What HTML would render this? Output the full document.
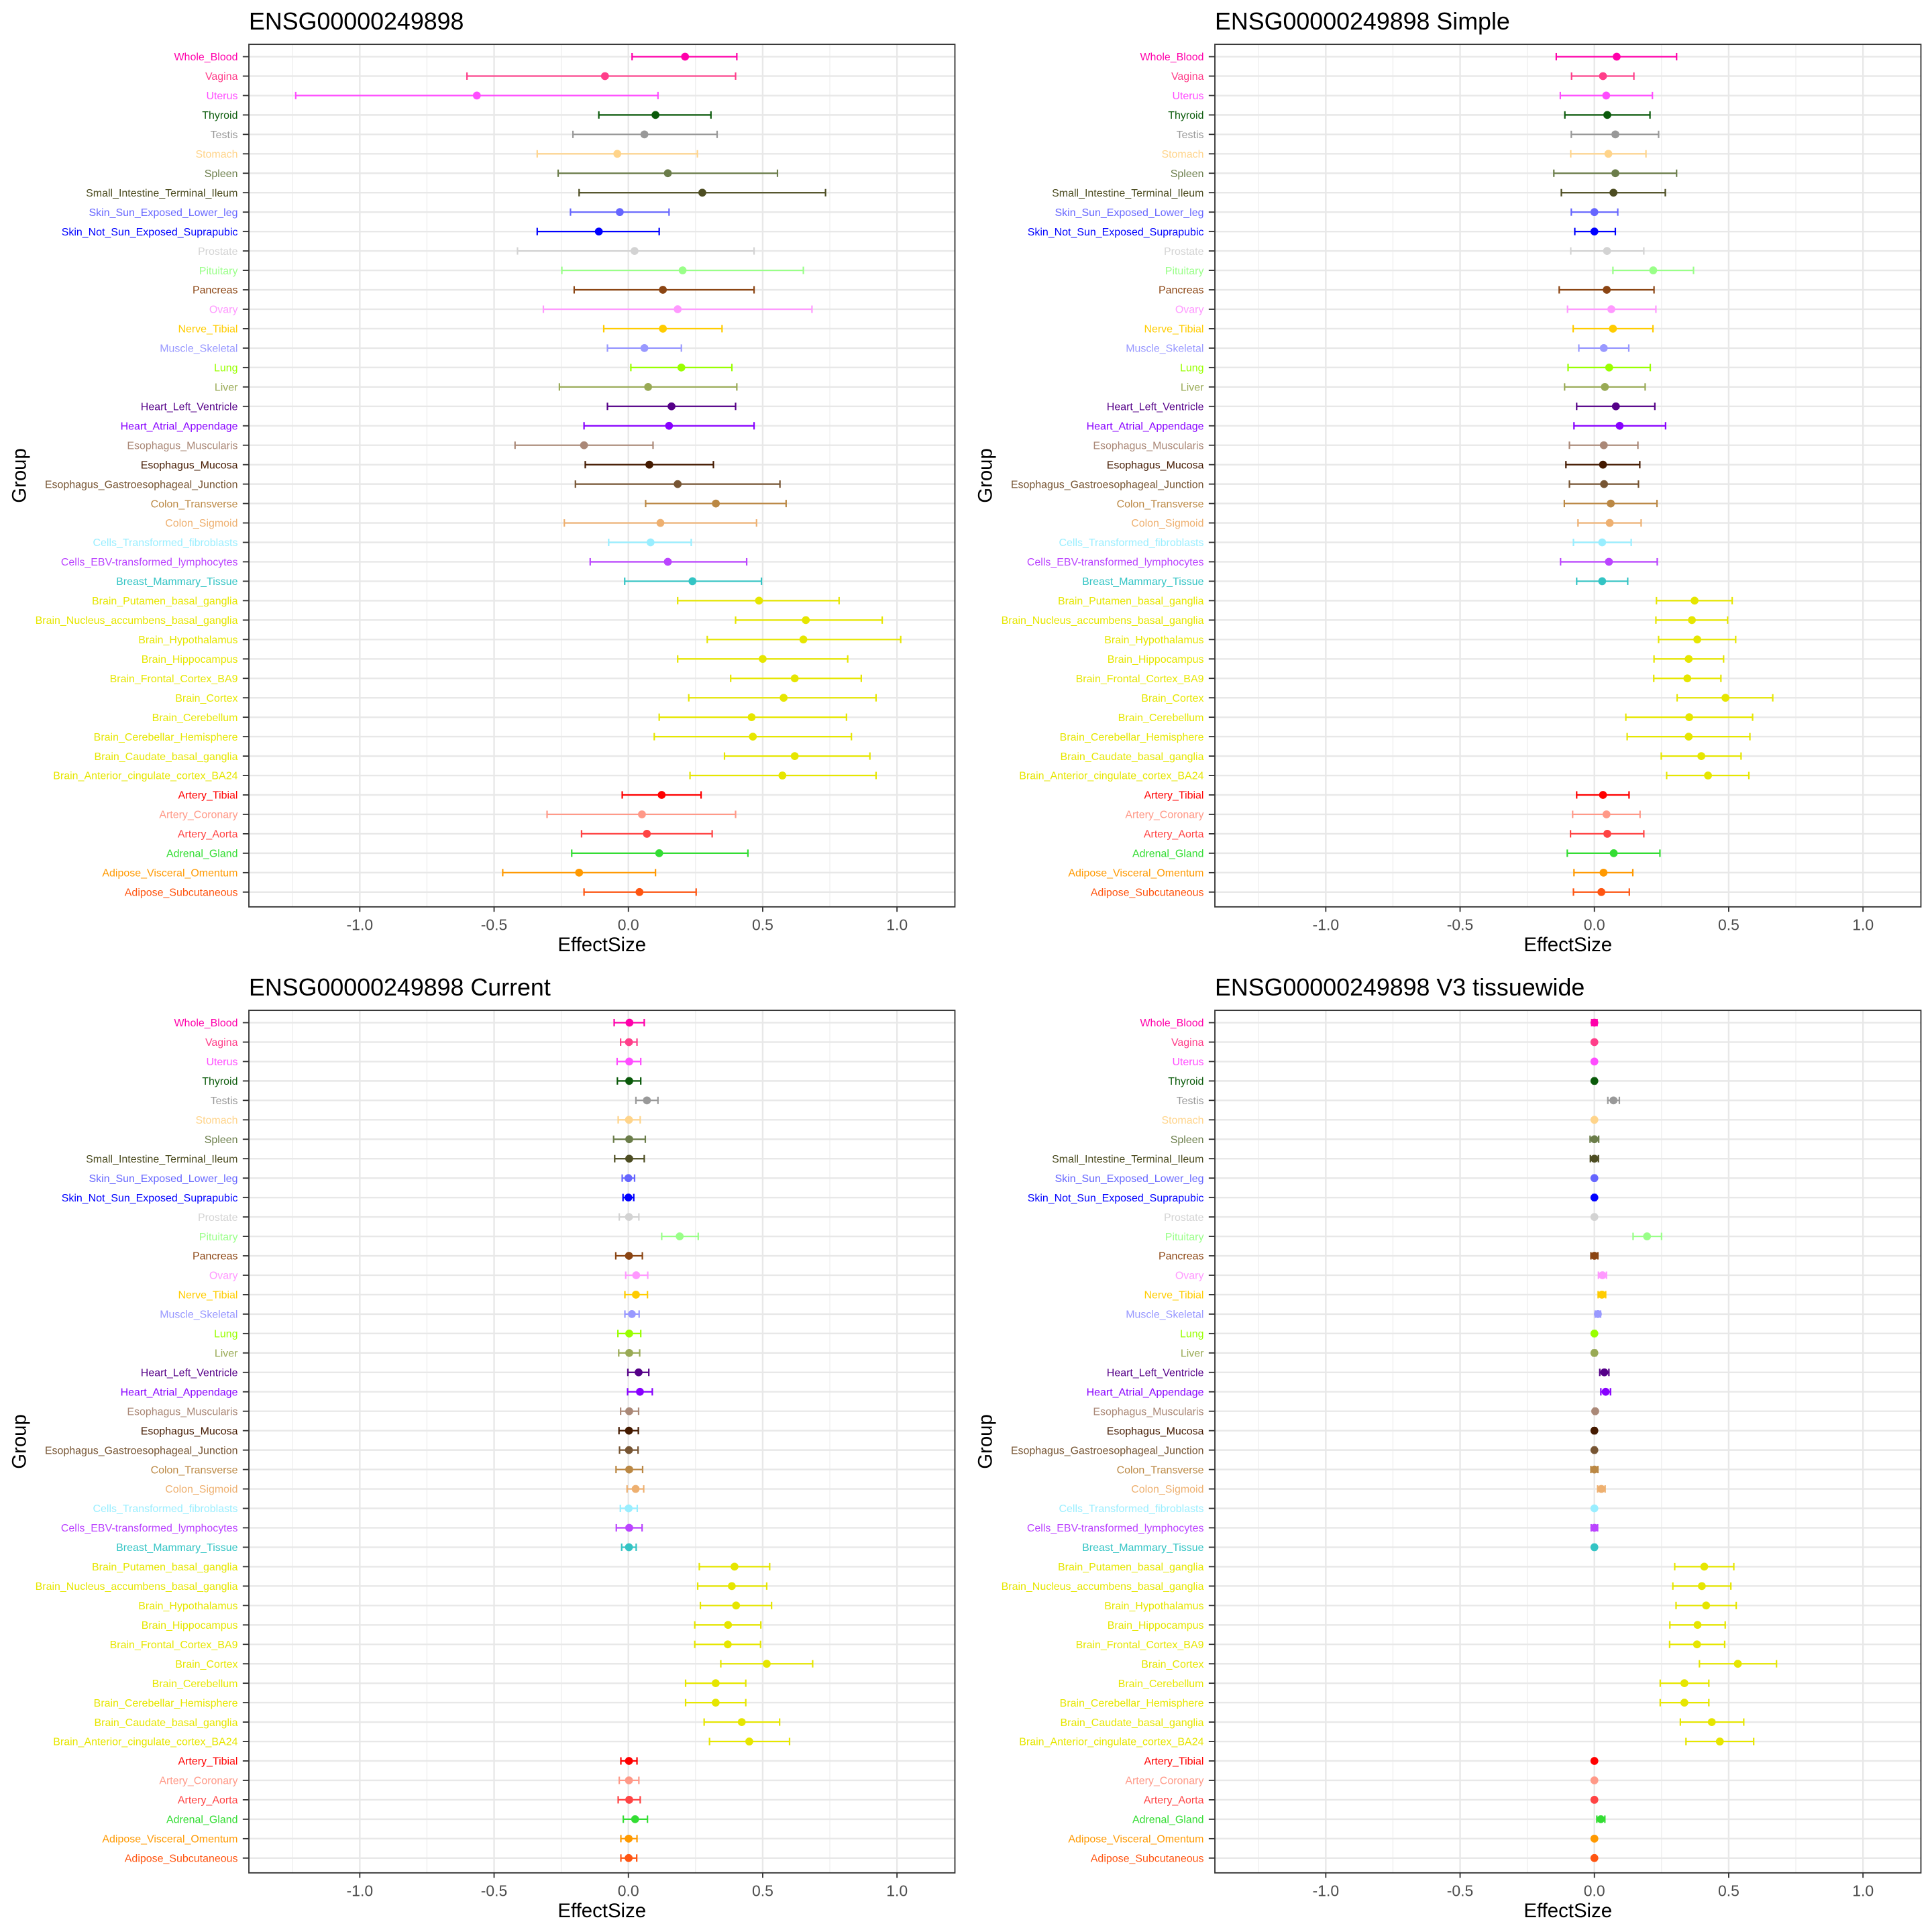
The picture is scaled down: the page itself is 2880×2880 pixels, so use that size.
<!DOCTYPE html>
<html><head><meta charset="utf-8"><style>html,body{margin:0;padding:0;background:#fff}svg{display:block}</style></head>
<body>
<svg id="s" xmlns="http://www.w3.org/2000/svg" width="2880" height="2880" viewBox="0 0 1568 1568" font-family="Liberation Sans, Arial, sans-serif"></svg>
<script>
const names=["Whole_Blood","Vagina","Uterus","Thyroid","Testis","Stomach","Spleen","Small_Intestine_Terminal_Ileum","Skin_Sun_Exposed_Lower_leg","Skin_Not_Sun_Exposed_Suprapubic","Prostate","Pituitary","Pancreas","Ovary","Nerve_Tibial","Muscle_Skeletal","Lung","Liver","Heart_Left_Ventricle","Heart_Atrial_Appendage","Esophagus_Muscularis","Esophagus_Mucosa","Esophagus_Gastroesophageal_Junction","Colon_Transverse","Colon_Sigmoid","Cells_Transformed_fibroblasts","Cells_EBV-transformed_lymphocytes","Breast_Mammary_Tissue","Brain_Putamen_basal_ganglia","Brain_Nucleus_accumbens_basal_ganglia","Brain_Hypothalamus","Brain_Hippocampus","Brain_Frontal_Cortex_BA9","Brain_Cortex","Brain_Cerebellum","Brain_Cerebellar_Hemisphere","Brain_Caudate_basal_ganglia","Brain_Anterior_cingulate_cortex_BA24","Artery_Tibial","Artery_Coronary","Artery_Aorta","Adrenal_Gland","Adipose_Visceral_Omentum","Adipose_Subcutaneous"];
const B="#E6E600";
const cols=["#FF00AA","#FF3E8A","#FF4DFF","#0A5A0A","#999999","#FFD48A","#6B7D4A","#4D4D22","#6666FF","#0000FF","#D3D3D3","#99FF88","#8B4513","#FF99FF","#FFCC00","#9999FF","#99FF00","#99AA55","#550088","#8800FF","#AA8877","#441A00","#775533","#BB8844","#EEB070","#99EEFF","#BB44FF","#33C4C4",B,B,B,B,B,B,B,B,B,B,"#FF0000","#FF9988","#FF4444","#33DD33","#FF9900","#FF5511"];
const p1px=[[556,513,598],[491,379,597],[387,240,534],[532,486,577],[523,465,582],[501,436,566],[542,453,631],[570,470,670],[503,463,543],[486,436,535],[515,420,612],[554,456,652],[538,466,612],[550,441,659],[538,490,586],[523,493,553],[553,512,594],[526,454,598],[545,493,597],[543,474,612],[474,418,530],[527,475,579],[550,467,633],[581,524,638],[536,458,614],[528,494,561],[542,479,606],[562,507,618],[616,550,681],[654,597,716],[652,574,731],[619,550,688],[645,593,699],[636,559,711],[610,535,687],[611,531,691],[645,588,706],[635,560,711],[537,505,569],[521,444,597],[525,472,578],[535,464,607],[470,408,532],[519,474,565]];
const p1=p1px.map(a=>a.map(x=>(x-510)/218));
const p2=[[.083,-.142,.306],[.032,-.085,.147],[.044,-.127,.216],[.048,-.11,.207],[.078,-.086,.239],[.052,-.088,.192],[.078,-.151,.306],[.071,-.123,.264],[0,-.086,.087],[0,-.073,.078],[.047,-.088,.184],[.219,.069,.369],[.046,-.131,.222],[.063,-.1,.229],[.069,-.079,.218],[.035,-.058,.128],[.055,-.098,.208],[.039,-.111,.189],[.08,-.066,.225],[.094,-.076,.265],[.035,-.093,.162],[.032,-.106,.169],[.036,-.093,.164],[.061,-.112,.233],[.057,-.061,.174],[.029,-.078,.137],[.054,-.126,.234],[.029,-.066,.124],[.373,.231,.513],[.363,.229,.496],[.383,.239,.526],[.351,.222,.481],[.346,.221,.471],[.488,.308,.664],[.353,.117,.589],[.351,.122,.579],[.398,.249,.546],[.423,.269,.575],[.032,-.066,.129],[.045,-.081,.17],[.048,-.089,.184],[.072,-.101,.244],[.034,-.076,.143],[.026,-.078,.13]];
const p3=[[.004,-.053,.059],[.002,-.029,.032],[.003,-.042,.046],[.003,-.041,.046],[.069,.028,.11],[.002,-.038,.044],[.003,-.055,.063],[.003,-.051,.059],[0,-.023,.023],[0,-.02,.02],[.002,-.034,.039],[.191,.124,.26],[.002,-.047,.052],[.029,-.01,.072],[.028,-.013,.071],[.013,-.013,.04],[.003,-.039,.046],[.003,-.036,.042],[.038,-.002,.076],[.043,-.003,.089],[.003,-.029,.038],[.002,-.035,.037],[.002,-.033,.036],[.003,-.046,.053],[.027,-.005,.057],[.001,-.03,.033],[.003,-.045,.051],[.002,-.025,.029],[.395,.264,.526],[.385,.258,.515],[.401,.268,.533],[.371,.247,.493],[.37,.247,.492],[.515,.344,.686],[.325,.213,.437],[.325,.213,.437],[.422,.282,.563],[.45,.302,.6],[.002,-.028,.032],[.002,-.034,.039],[.003,-.038,.044],[.025,-.019,.071],[.001,-.028,.032],[.001,-.028,.031]];
function sm(v,e){return [v,v-e,v+e]}
const p4=[sm(0,.01),sm(0,.004),sm(0,.004),sm(0,.005),[.071,.05,.093],sm(0,.004),sm(0,.016),sm(0,.015),sm(0,.005),sm(0,.005),sm(0,.004),[.196,.144,.25],sm(0,.013),sm(.03,.015),sm(.028,.014),sm(.013,.01),sm(0,.005),sm(0,.006),sm(.037,.017),sm(.042,.018),sm(.003,.005),sm(0,.006),sm(0,.005),sm(0,.013),sm(.026,.014),sm(0,.004),sm(0,.012),sm(0,.005),[.409,.299,.519],[.4,.292,.508],[.416,.304,.528],[.384,.281,.487],[.382,.28,.485],[.534,.391,.678],[.335,.245,.426],[.335,.245,.426],[.437,.32,.556],[.467,.341,.593],sm(0,.004),sm(0,.004),sm(0,.004),sm(.024,.015),sm(0,.004),sm(0,.004)];
const titles=["ENSG00000249898","ENSG00000249898 Simple","ENSG00000249898 Current","ENSG00000249898 V3 tissuewide"];
const data=[p1,p2,p3,p4];
let h="";
for(let k=0;k<4;k++){
 const dx=(k%2)*784, dy=Math.floor(k/2)*784;
 const L=202+dx,R=775+dx,T=36+dy,Bt=736+dy;
 const X=v=>510+dx+v*218;
 const Y=i=>46+dy+i*(678/43);
 h+=`<text x="${L}" y="${24+dy}" font-size="19.5" fill="#000">${titles[k]}</text>`;
 for(const v of [-1.25,-0.75,-0.25,0.25,0.75]) h+=`<line x1="${X(v)}" x2="${X(v)}" y1="${T}" y2="${Bt}" stroke="#EBEBEB" stroke-width="0.6"/>`;
 for(const v of [-1,-0.5,0,0.5,1]) h+=`<line x1="${X(v)}" x2="${X(v)}" y1="${T}" y2="${Bt}" stroke="#E8E8E8" stroke-width="1.3"/>`;
 for(let i=0;i<44;i++) h+=`<line x1="${L}" x2="${R}" y1="${Y(i)}" y2="${Y(i)}" stroke="#E8E8E8" stroke-width="1.3"/>`;
 data[k].forEach((d,i)=>{const c=cols[i],y=Y(i),a=X(d[1]),b=X(d[2]);
  h+=`<line x1="${a}" x2="${b}" y1="${y}" y2="${y}" stroke="${c}" stroke-width="1.2"/>`;
  h+=`<line x1="${a}" x2="${a}" y1="${y-3}" y2="${y+3}" stroke="${c}" stroke-width="1.2"/><line x1="${b}" x2="${b}" y1="${y-3}" y2="${y+3}" stroke="${c}" stroke-width="1.2"/>`;
  h+=`<circle cx="${X(d[0])}" cy="${y}" r="3.2" fill="${c}"/>`;
  h+=`<text x="${L-9}" y="${y+3.1}" font-size="8.7" text-anchor="end" fill="${c}">${names[i]}</text>`;
  h+=`<line x1="${L-5}" x2="${L}" y1="${y}" y2="${y}" stroke="#333" stroke-width="1"/>`;
 });
 h+=`<rect x="${L}" y="${T}" width="${R-L}" height="${Bt-T}" fill="none" stroke="#333" stroke-width="1"/>`;
 for(const [v,t] of [[-1,"-1.0"],[-0.5,"-0.5"],[0,"0.0"],[0.5,"0.5"],[1,"1.0"]]){
  h+=`<line x1="${X(v)}" x2="${X(v)}" y1="${Bt}" y2="${Bt+4}" stroke="#333" stroke-width="1"/>`;
  h+=`<text x="${X(v)}" y="${Bt+19}" font-size="12.5" text-anchor="middle" fill="#4D4D4D">${t}</text>`;
 }
 h+=`<text x="${(L+R)/2}" y="${Bt+36}" font-size="16" text-anchor="middle" fill="#000">EffectSize</text>`;
 h+=`<text transform="translate(${dx+21},${(T+Bt)/2}) rotate(-90)" font-size="16" text-anchor="middle" fill="#000">Group</text>`;
}
document.getElementById("s").innerHTML=h;
</script>
</body></html>
